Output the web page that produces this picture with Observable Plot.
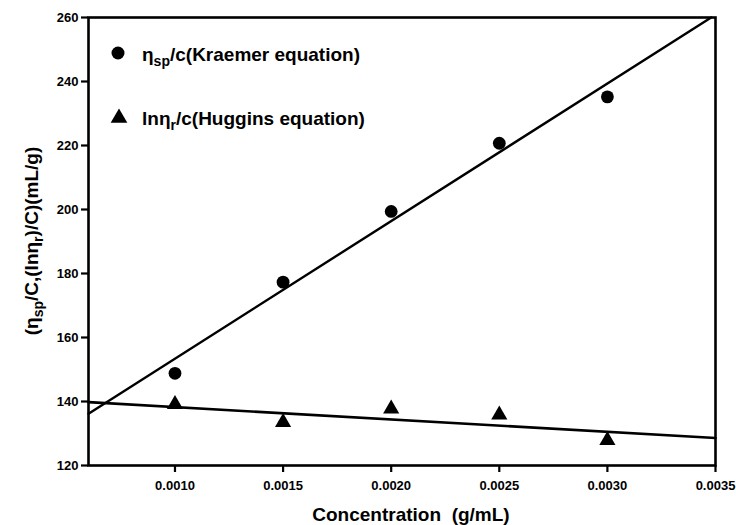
<!DOCTYPE html>
<html><head><meta charset="utf-8">
<script src="https://cdn.jsdelivr.net/npm/d3@7"></script>
<script src="https://cdn.jsdelivr.net/npm/@observablehq/plot@0.6"></script>
<style>
body{margin:0;background:#fff}
#chart{width:736px;height:525px}
</style>
</head><body><div id="chart"></div>
<script>
// Data
const concentration = [0.0010, 0.0015, 0.0020, 0.0025, 0.0030];
const kraemer = [148.8, 177.3, 199.4, 220.7, 235.2];
const huggins = [139.1, 133.5, 137.7, 135.8, 127.9];
const kraemerFitX = [0.0006, 0.00348];
const kraemerFitY = [136.2, 260];
const hugginsFitX = [0.0006, 0.0035];
const hugginsFitY = [139.8, 128.6];
const xTicks = [0.0010, 0.0015, 0.0020, 0.0025, 0.0030, 0.0035];
const yTicks = [120, 140, 160, 180, 200, 220, 240, 260];
const xDomain = [0.0006, 0.0035];
const yDomain = [120, 260];

const kData = concentration.map((c, i) => ({c, v: kraemer[i]}));
const hData = concentration.map((c, i) => ({c, v: huggins[i]}));
const kFit = kraemerFitX.map((c, i) => ({c, v: kraemerFitY[i]}));
const hFit = hugginsFitX.map((c, i) => ({c, v: hugginsFitY[i]}));

const font = "'Liberation Sans', Arial, sans-serif";

const plot = Plot.plot({
  width: 736,
  height: 525,
  marginLeft: 88,
  marginRight: 21,
  marginTop: 17,
  marginBottom: 60,
  style: {fontFamily: font, fontSize: "13px", fontWeight: "bold", color: "#000", background: "#fff"},
  x: {domain: xDomain},
  y: {domain: yDomain},
  marks: [
    Plot.line(kFit, {x: "c", y: "v", stroke: "#000", strokeWidth: 2.4}),
    Plot.line(hFit, {x: "c", y: "v", stroke: "#000", strokeWidth: 2.6}),
    Plot.dot(kData, {x: "c", y: "v", r: 6.4, fill: "#000", symbol: "circle"}),
    Plot.dot(hData, {x: "c", y: "v", r: 6, fill: "#000", symbol: "triangle"}),
    Plot.axisX({ticks: xTicks, tickFormat: d3.format(".4f"), tickSize: 7, tickPadding: 8, strokeWidth: 2.2, label: null}),
    Plot.axisY({ticks: yTicks, tickFormat: d3.format("d"), tickSize: 7, tickPadding: 3, strokeWidth: 2.2, label: null}),
    Plot.frame({stroke: "#000", strokeWidth: 2.6})
  ]
});
document.getElementById("chart").appendChild(plot);

const svg = d3.select(plot);
// Axis titles
svg.append("text")
  .attr("x", 411).attr("y", 521)
  .attr("text-anchor", "middle")
  .attr("xml:space", "preserve")
  .style("font", `bold 19px ${font}`)
  .attr("fill", "#000")
  .text("Concentration  (g/mL)");

const yt = svg.append("text")
  .attr("transform", "translate(38,241) rotate(-90)")
  .attr("text-anchor", "middle")
  .style("font", `bold 19px ${font}`)
  .attr("fill", "#000");
yt.append("tspan").text("(η");
yt.append("tspan").attr("dy", 5).style("font-size", "14px").text("sp");
yt.append("tspan").attr("dy", -5).text("/C,(lnη");
yt.append("tspan").attr("dy", 5).style("font-size", "14px").text("r");
yt.append("tspan").attr("dy", -5).text(")/C)(mL/g)");

// Legend
const leg = svg.append("g").attr("fill", "#000").attr("text-anchor", "start");
leg.append("circle").attr("cx", 118).attr("cy", 53).attr("r", 6.5);
leg.append("path").attr("d", d3.symbol(d3.symbolTriangle, 120)()).attr("transform", "translate(119,118)");
const l1 = leg.append("text").attr("x", 142).attr("y", 61).attr("text-anchor", "start").style("font", `bold 19px ${font}`);
l1.append("tspan").text("η");
l1.append("tspan").attr("dy", 5).style("font-size", "14px").text("sp");
l1.append("tspan").attr("dy", -5).text("/c(Kraemer equation)");
const l2 = leg.append("text").attr("x", 142).attr("y", 125).attr("text-anchor", "start").style("font", `bold 19px ${font}`);
l2.append("tspan").text("lnη");
l2.append("tspan").attr("dy", 5).style("font-size", "14px").text("r");
l2.append("tspan").attr("dy", -5).text("/c(Huggins equation)");
</script>
</body></html>
